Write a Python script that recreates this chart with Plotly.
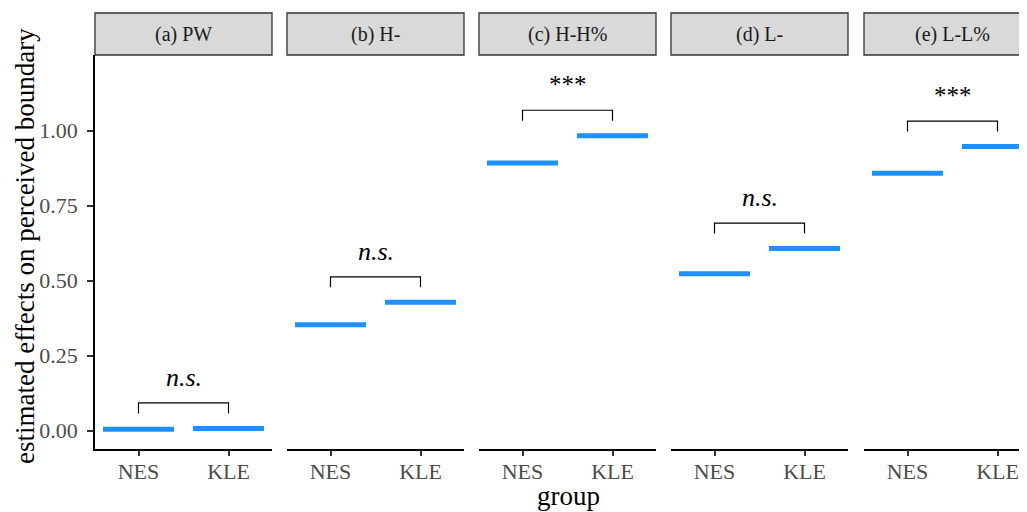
import plotly.graph_objects as go

# ---- data ----
panels = ["(a) PW", "(b) H-", "(c) H-H%", "(d) L-", "(e) L-L%"]
groups = ["NES", "KLE"]
nes_values = [0.005, 0.353, 0.892, 0.523, 0.858]
kle_values = [0.008, 0.428, 0.983, 0.607, 0.947]
signif = ["n.s.", "n.s.", "***", "n.s.", "***"]
y_ticks = [0.0, 0.25, 0.5, 0.75, 1.0]
y_tick_labels = ["0.00", "0.25", "0.50", "0.75", "1.00"]

OFF = 8  # default page body margin
W, H = 1027 - OFF, 512 - OFF
FONT = "Liberation Serif"
BLUE = "#1E90FF"


def px(v):
    return v - OFF


# panel pixel extents (left, right) in window pixels
panel_px = [(95, 272), (287, 464), (479, 656), (671, 848), (864, 1041)]
plot_top, plot_bot = 55, 448.5
strip_top = 13
px_per_unit = 90.0
left_pad = 43.5  # px from panel left to first category
bar_half = 0.395
bracket_off = 0.085
leg_len = 0.035
text_off = 0.085

fig = go.Figure()
layout = dict(
    width=W, height=H,
    margin=dict(l=0, r=0, t=0, b=0),
    paper_bgcolor="white", plot_bgcolor="white",
    showlegend=False,
    font=dict(family=FONT, color="black"),
)

y_lo = -0.059
y_hi = 1.252
shapes = []
annotations = []

for i, name in enumerate(panels):
    L, R = px(panel_px[i][0]), px(panel_px[i][1])
    R_vis = min(R, W)
    ax = "" if i == 0 else str(i + 1)
    xa = "x" + ax
    ya = "y" + ax
    r0 = 1 - left_pad / px_per_unit
    r1 = r0 + (R_vis - L) / px_per_unit
    layout["xaxis" + ax] = dict(
        domain=[L / W, R_vis / W], range=[r0, r1],
        tickmode="array", tickvals=[1, 2], ticktext=groups,
        showline=True, linecolor="black", linewidth=1.6,
        ticks="outside", ticklen=6, tickwidth=1.5, tickcolor="#333333",
        tickfont=dict(family=FONT, size=22, color="#4D4D4D"),
        ticklabelstandoff=-4,
        showgrid=False, zeroline=False, anchor=ya, fixedrange=True,
    )
    ydict = dict(
        domain=[1 - px(plot_bot) / H, 1 - px(plot_top) / H], range=[y_lo, y_hi],
        showgrid=False, zeroline=False, anchor=xa, fixedrange=True,
    )
    if i == 0:
        ydict.update(
            tickmode="array", tickvals=y_ticks, ticktext=y_tick_labels,
            showline=True, linecolor="black", linewidth=1.6,
            ticks="outside", ticklen=6, tickwidth=1.5, tickcolor="#333333",
            tickfont=dict(family=FONT, size=22, color="#4D4D4D"),
            ticklabelstandoff=5,
        )
    else:
        ydict.update(showticklabels=False, showline=False, ticks="")
    layout["yaxis" + ax] = ydict

    vals = [nes_values[i], kle_values[i]]
    for j, v in enumerate(vals):
        xc = j + 1
        fig.add_trace(go.Scatter(
            x=[xc - bar_half, xc + bar_half], y=[v, v], mode="lines",
            line=dict(color=BLUE, width=5), xaxis=xa, yaxis=ya,
            hoverinfo="skip"))
    top = max(vals) + bracket_off
    fig.add_trace(go.Scatter(
        x=[1, 1, 2, 2], y=[top - leg_len, top, top, top - leg_len],
        mode="lines", line=dict(color="black", width=1.2),
        xaxis=xa, yaxis=ya, hoverinfo="skip"))
    is_ns = signif[i] == "n.s."
    annotations.append(dict(
        x=1.5, y=top + text_off, xref=xa, yref=ya,
        text=("<i>%s</i>" % signif[i]) if is_ns else signif[i],
        showarrow=False, font=dict(family=FONT, size=26 if is_ns else 25, color="black"),
        xanchor="center", yanchor="middle"))

    # strip
    shapes.append(dict(
        type="rect", xref="paper", yref="paper",
        x0=L / W, x1=R / W, y0=1 - px(plot_top) / H, y1=1 - px(strip_top) / H,
        fillcolor="#D9D9D9", line=dict(color="#333333", width=1.3), layer="below"))
    annotations.append(dict(
        x=(L + R) / 2 / W, y=1 - (px(strip_top) + px(plot_top)) / 2 / H,
        xref="paper", yref="paper", text=name, showarrow=False,
        font=dict(family=FONT, size=20, color="#1A1A1A"),
        xanchor="center", yanchor="middle"))

# axis titles
annotations.append(dict(
    x=px(25) / W, y=1 - px(246) / H, xref="paper", yref="paper",
    text="estimated effects on perceived boundary", textangle=-90,
    showarrow=False, font=dict(family=FONT, size=27, color="black"),
    xanchor="center", yanchor="middle"))
annotations.append(dict(
    x=px(568) / W, y=1 - px(496) / H, xref="paper", yref="paper",
    text="group", showarrow=False,
    font=dict(family=FONT, size=27, color="black"),
    xanchor="center", yanchor="middle"))

layout["shapes"] = shapes
layout["annotations"] = annotations
fig.update_layout(**layout)
fig.write_html("out.html")
